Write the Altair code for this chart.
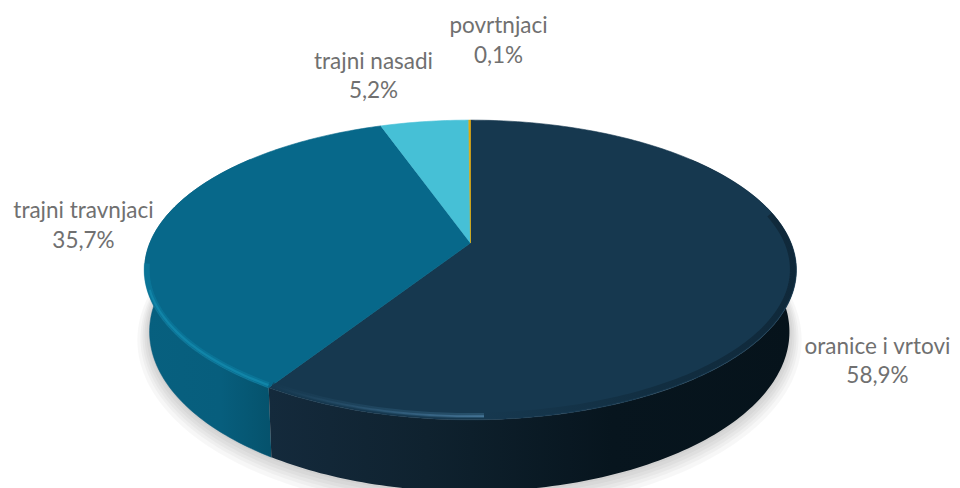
import math
import altair as alt
import pandas as pd

categories = ["oranice i vrtovi", "trajni travnjaci", "trajni nasadi", "povrtnjaci"]
values = [58.9, 35.7, 5.2, 0.1]
percent_labels = ["58,9%", "35,7%", "5,2%", "0,1%"]

face_colors = ["#16384f", "#07688a", "#46c0d6", "#e3a908"]
label_x = [877.5, 83.5, 373.5, 498.5]
label_y = [[347, 376], [211, 241], [62, 91], [26, 56]]

# perspective of the pie disc, in reference pixels
P = 0.18
TOP = dict(cx=470.5, cy=243, A=145, B=320.6)
BOTTOM = dict(cx=469.5, cy=303, A=154.6, B=314.7)


def rim(deg, g, grow=0.0):
    a = math.radians(deg)
    d = 1 + P * math.cos(a)
    return (g["cx"] + (g["B"] + grow) * math.sin(a) / d,
            g["cy"] - (g["A"] + grow) * math.cos(a) / d)


def arc(a0, a1, g, grow=0.0, dy=0.0):
    n = max(2, int(abs(a1 - a0)) + 2)
    pts = [rim(a0 + (a1 - a0) * i / (n - 1), g, grow) for i in range(n)]
    return [(x, y + dy) for x, y in pts]


total = sum(values)
edges = [0.0]
for v in values:
    edges.append(edges[-1] + 360 * v / total)

X = alt.Scale(domain=[8, 952], nice=False, zero=False)
Y = alt.Scale(domain=[8, 488], reverse=True, nice=False, zero=False)


def path(pts, **mark):
    df = pd.DataFrame(pts, columns=["px", "py"]).assign(i=lambda d: range(len(d)))
    return alt.Chart(df).mark_line(clip=True, **mark).encode(
        x=alt.X("px:Q", scale=X, axis=None),
        y=alt.Y("py:Q", scale=Y, axis=None),
        order=alt.Order("i:Q"),
    )


def grad(stops):
    return alt.Gradient(gradient="linear", x1=0, x2=1, y1=0, y2=0,
                        stops=[alt.GradientStop(offset=o, color=c) for o, c in stops])


layers = []

# soft shadow under the disc
for grow, dy in [(12, 6), (9, 5), (7, 4), (5, 3), (3, 2), (1, 1)]:
    layers.append(path(arc(0, 360, BOTTOM, grow, dy), fill="#000000", fillOpacity=0.03,
                       stroke="#000000", strokeOpacity=0, strokeWidth=0))

# side wall
wall_navy = arc(50, edges[1], TOP) + arc(edges[1], 50, BOTTOM)
wall_teal = arc(edges[1], 310, TOP) + arc(310, edges[1], BOTTOM)
layers.append(path(wall_teal,
                   fill=grad([(0, "#07607f"), (0.6, "#075e7d"), (1, "#05526c")]),
                   stroke="#06587a", strokeWidth=0.5))
layers.append(path(wall_navy,
                   fill=grad([(0, "#142a3c"), (0.3, "#0f222f"), (0.65, "#07151e"), (1, "#06131b")]),
                   stroke="#0c1e2b", strokeOpacity=0, strokeWidth=0))

# top faces
for i in range(len(values)):
    pts = [(TOP["cx"], TOP["cy"])] + arc(edges[i], edges[i + 1], TOP) + [(TOP["cx"], TOP["cy"])]
    layers.append(path(pts, fill=face_colors[i], stroke=face_colors[i], strokeWidth=0.6))

# rim shading and highlights
layers.append(path(arc(78, 178, TOP, -3.5),
                   stroke=grad([(0, "#16384f"), (0.55, "#0e2636"), (1, "#0a1c29")]),
                   strokeWidth=6, strokeOpacity=0.55))
layers.append(path(arc(178, edges[1] - 0.3, TOP, -3.5),
                   stroke=grad([(0, "#16384f"), (0.6, "#2b5875"), (1, "#3a6a88")]),
                   strokeWidth=5, strokeOpacity=0.5))
layers.append(path(arc(178, edges[1] - 0.3, TOP, -3),
                   stroke=grad([(0, "#16384f"), (0.55, "#2f5a78"), (1, "#47779a")]),
                   strokeWidth=1.8, strokeOpacity=0.9))
layers.append(path(arc(edges[1] + 0.3, 262, TOP, -2), stroke="#0f86ab", strokeWidth=6, strokeOpacity=0.4))
layers.append(path(arc(edges[1] + 0.3, 252, TOP, -2), stroke="#1389ad", strokeWidth=2.2, strokeOpacity=0.8))

# labels
rows = []
for c, p, lx, ly in zip(categories, percent_labels, label_x, label_y):
    rows.append({"t": c, "px": lx, "py": ly[0]})
    rows.append({"t": p, "px": lx, "py": ly[1]})
text = alt.Chart(pd.DataFrame(rows)).mark_text(
    font="Lato", fontSize=22.5, color="#707070", align="center", baseline="middle"
).encode(
    x=alt.X("px:Q", scale=X, axis=None),
    y=alt.Y("py:Q", scale=Y, axis=None),
    text="t:N",
)
layers.append(text)

chart = alt.layer(*layers).properties(
    width=944, height=480, padding=0, background="#ffffff"
).configure_view(stroke=None)
chart.save("out.html", embed_options={"renderer": "svg", "actions": False})
